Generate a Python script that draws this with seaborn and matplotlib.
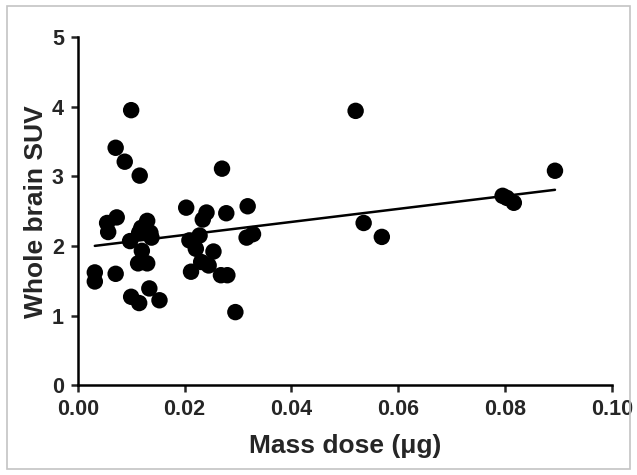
import numpy as np
import pandas as pd
import matplotlib
matplotlib.use("Agg")
import matplotlib.pyplot as plt
import seaborn as sns
from matplotlib.patches import Rectangle

# --- Data ---
mass_dose = [0.0032, 0.0032, 0.0055, 0.0057, 0.0073, 0.0071, 0.0071, 0.0088,
             0.0100, 0.0098, 0.0100, 0.0115, 0.0116, 0.0115, 0.0119, 0.0120,
             0.0113, 0.0130, 0.0130, 0.0136, 0.0138, 0.0134, 0.0153, 0.0203,
             0.0209, 0.0212, 0.0221, 0.0228, 0.0231, 0.0234, 0.0241, 0.0245,
             0.0254, 0.0270, 0.0268, 0.0280, 0.0278, 0.0295, 0.0318, 0.0316,
             0.0328, 0.0520, 0.0535, 0.0569, 0.0795, 0.0803, 0.0816, 0.0893]
brain_suv = [1.62, 1.49, 2.33, 2.20, 2.41, 3.41, 1.60, 3.21,
             3.95, 2.07, 1.27, 1.18, 3.01, 2.19, 2.26, 1.93,
             1.75, 1.75, 2.36, 2.19, 2.12, 1.39, 1.22, 2.55,
             2.08, 1.63, 1.96, 2.15, 1.77, 2.38, 2.48, 1.72,
             1.92, 3.11, 1.58, 1.58, 2.47, 1.05, 2.57, 2.12,
             2.17, 3.94, 2.33, 2.13, 2.72, 2.69, 2.62, 3.08]

x_ticks = [0.00, 0.02, 0.04, 0.06, 0.08, 0.10]
y_ticks = [0, 1, 2, 3, 4, 5]

df = pd.DataFrame({"dose": mass_dose, "suv": brain_suv})

# --- Style ---
sns.set_style("ticks")
plt.rcParams["font.family"] = ["Liberation Sans", "DejaVu Sans"]
plt.rcParams["font.weight"] = "bold"

fig = plt.figure(figsize=(6.37, 4.75), dpi=100)
ax = fig.add_axes([0.122, 0.189, 0.839, 0.733])

# scatter + linear fit
sns.scatterplot(data=df, x="dose", y="suv", ax=ax, color="black",
                s=140, edgecolor="none", zorder=3)
sns.regplot(data=df, x="dose", y="suv", ax=ax, ci=None, scatter=False,
            truncate=True, color="black", line_kws={"linewidth": 1.8})

ax.set_xlim(0, 0.10)
ax.set_ylim(0, 5)
ax.set_xticks(x_ticks)
ax.set_xticklabels([f"{t:.2f}" for t in x_ticks])
ax.set_yticks(y_ticks)
ax.tick_params(labelsize=15.5, width=1.8, length=5, direction="out", pad=5)
for lbl in ax.get_xticklabels() + ax.get_yticklabels():
    lbl.set_fontweight("bold")

ax.set_xlabel("Mass dose (\u03bcg)", fontsize=19, fontweight="bold", labelpad=10)
ax.set_ylabel("Whole brain SUV", fontsize=19, fontweight="bold", labelpad=3)

sns.despine(ax=ax)
for side in ["left", "bottom"]:
    ax.spines[side].set_linewidth(1.8)
    ax.spines[side].set_color("black")

# light grey frame around the figure
fig.patches.append(Rectangle((0.011, 0.013), 0.978, 0.974, transform=fig.transFigure,
                             fill=False, edgecolor="#c4c4c4", linewidth=1.2))

fig.savefig("out.png", dpi=100)
